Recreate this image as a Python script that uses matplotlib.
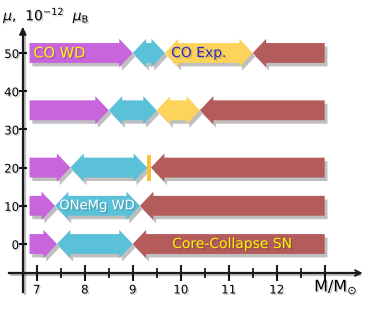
import numpy as np
import matplotlib.pyplot as plt
from matplotlib.patches import Polygon
import matplotlib.patheffects as pe

# rows of the chart (mu in units of 1e-12 mu_B)
rows = [50, 35, 20, 10, 0]
# boundaries along M/Msun for each row
start_mass = 6.85
purple_end = [9.0, 8.5, 7.7, 7.38, 7.42]
cyan_end = [9.67, 9.5, 9.3, 9.15, 9.0]
yellow_end = [11.5, 10.4, None, None, None]
yellow_mark = [None, None, 9.3, None, None]   # thin yellow bar in the 20 row
red_end = 13.0

xticks_major = [7, 8, 9, 10, 11, 12, 13]
xtick_labels = ['7', '8', '9', '10', '11', '12', '']
xticks_minor = [7.5, 8.5, 9.5, 10.5, 11.5, 12.5]
yticks = [0, 10, 20, 30, 40, 50]

c_purple = '#c864dc'
c_cyan = '#5bc1d8'
c_yellow = '#fdd35c'
c_red = '#b45c5c'

shadow = [pe.SimplePatchShadow(offset=(2, -2.5), shadow_rgbFace='k', alpha=0.25), pe.Normal()]

# arrow geometry (data units)
h_body = 2.6
h_head = 3.7
l_head = 0.28


def arrow(ax, x0, x1, y, color, lhead, rhead):
    pts = []
    if lhead:
        pts += [(x0, y), (x0 + l_head, y + h_head), (x0 + l_head, y + h_body)]
    else:
        pts += [(x0, y - h_body), (x0, y + h_body)]
    if rhead:
        pts += [(x1 - l_head, y + h_body), (x1 - l_head, y + h_head), (x1, y),
                (x1 - l_head, y - h_head), (x1 - l_head, y - h_body)]
    else:
        pts += [(x1, y + h_body), (x1, y - h_body)]
    if lhead:
        pts += [(x0 + l_head, y - h_body), (x0 + l_head, y - h_head)]
    p = Polygon(pts, closed=True, facecolor=color, edgecolor='none', zorder=3)
    p.set_path_effects(shadow)
    ax.add_patch(p)


fig = plt.figure(figsize=(3.74, 3.13), dpi=100)
ax = fig.add_axes([0, 0, 1, 1])
ax.set_xlim(6.235, 14.027)
ax.set_ylim(-18.06, 63.87)

for i, y in enumerate(rows):
    arrow(ax, start_mass, purple_end[i], y, c_purple, False, True)
    arrow(ax, purple_end[i], cyan_end[i], y, c_cyan, True, True)
    red_start = cyan_end[i]
    if yellow_end[i] is not None:
        arrow(ax, cyan_end[i], yellow_end[i], y, c_yellow, True, True)
        red_start = yellow_end[i]
    if yellow_mark[i] is not None:
        ax.bar(yellow_mark[i], 2 * 3.4, bottom=y - 3.4, width=0.08, align='edge',
               color='#f6c240', zorder=4)
        red_start = yellow_mark[i] + 0.08
    arrow(ax, red_start, red_end, y, c_red, True, False)

tshadow = [pe.SimplePatchShadow(offset=(1, -1), shadow_rgbFace='k', alpha=0.18), pe.Normal()]
ax.text(6.93, rows[0], 'CO WD', color='#f8f800', fontsize=10.5, ha='left', va='center',
        zorder=5, path_effects=tshadow)
ax.text(9.8, rows[0], 'CO Exp.', color='#2828d0', fontsize=10, ha='left', va='center',
        zorder=5, path_effects=tshadow)
ax.text(8.26, rows[3], 'ONeMg WD', color='white', fontsize=9.5, ha='center', va='center',
        zorder=5, path_effects=tshadow)
ax.text(11.07, rows[4], 'Core-Collapse SN', color='#f8f800', fontsize=10, ha='center',
        va='center', zorder=5, path_effects=tshadow)

# axes
for s in ['top', 'right']:
    ax.spines[s].set_visible(False)
ax.spines['left'].set_position(('data', 6.71))
ax.spines['bottom'].set_position(('data', -7.6))
ax.spines['left'].set_bounds(-12.6, 56)
ax.spines['bottom'].set_bounds(6.42, 13.7)
lshadow = [pe.SimpleLineShadow(offset=(1.5, -1.5), alpha=0.25), pe.Normal()]
for s in ['left', 'bottom']:
    ax.spines[s].set_linewidth(1.6)
    ax.spines[s].set_color('#1a1a1a')
    ax.spines[s].set_path_effects(lshadow)

ax.set_xticks(xticks_major)
ax.set_xticklabels(xtick_labels)
ax.set_xticks(xticks_minor, minor=True)
ax.set_yticks(yticks)
ax.tick_params(axis='x', which='major', direction='inout', length=11, width=1.5,
               labelsize=8.5, pad=2, color='#1a1a1a')
ax.tick_params(axis='x', which='minor', direction='inout', length=6.5, width=1.3,
               color='#1a1a1a')
ax.tick_params(axis='y', direction='inout', length=5.5, width=1.5, labelsize=8.5, pad=0,
               color='#1a1a1a')
for lab in ax.get_xticklabels() + ax.get_yticklabels():
    lab.set_path_effects(tshadow)

ax.annotate('', xy=(13.85, -7.6), xytext=(13.6, -7.6),
            arrowprops=dict(arrowstyle='->', lw=1.4, color='#1a1a1a'))
ax.annotate('', xy=(6.71, 57.5), xytext=(6.71, 55),
            arrowprops=dict(arrowstyle='-|>', lw=1.4, color='#1a1a1a', mutation_scale=10))

ax.text(12.78, -11.3, r'M/M$_{\odot}$', fontsize=11.5, ha='left', va='center',
        path_effects=tshadow)
ax.text(6.3, 59.8, r'$\mu$,  10$^{-12}$  $\mu_{\rm B}$', fontsize=10, ha='left', va='center',
        path_effects=tshadow)

fig.savefig('out.png', dpi=100)
